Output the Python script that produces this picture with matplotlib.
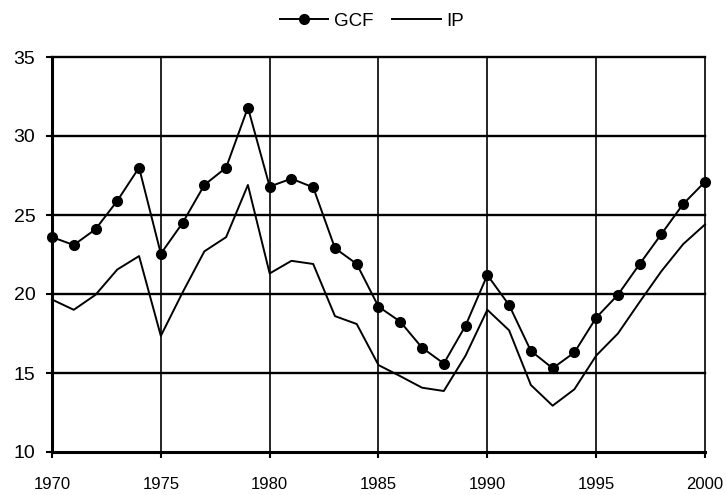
import matplotlib
matplotlib.use("Agg")
import matplotlib.pyplot as plt
from matplotlib import font_manager

years = list(range(1970, 2001))
gcf = [23.6, 23.1, 24.1, 25.9, 28.0, 22.55, 24.5, 26.9, 28.0, 31.8,
       26.8, 27.3, 26.75, 22.9, 21.9, 19.2, 18.25, 16.6, 15.6, 18.0,
       21.2, 19.3, 16.4, 15.3, 16.3, 18.5, 19.95, 21.9, 23.8, 25.7, 27.1]
ip = [19.65, 19.0, 19.95, 21.55, 22.4, 17.35, 20.1, 22.7, 23.6, 26.9,
      21.3, 22.1, 21.9, 18.6, 18.1, 15.5, 14.8, 14.07, 13.86, 16.1,
      19.0, 17.7, 14.24, 12.93, 13.97, 16.1, 17.5, 19.5, 21.45, 23.16, 24.4]
x_ticks = [1970, 1975, 1980, 1985, 1990, 1995, 2000]
y_ticks = [10, 15, 20, 25, 30, 35]

installed = {f.name for f in font_manager.fontManager.ttflist}
base_font = "Liberation Sans" if "Liberation Sans" in installed else "DejaVu Sans"
narrow_font = "Liberation Sans Narrow" if "Liberation Sans Narrow" in installed else base_font
plt.rcParams["font.family"] = [base_font, "DejaVu Sans"]

fig = plt.figure(figsize=(7.26, 4.95), dpi=100)
ax = fig.add_axes([52 / 726, 43 / 495, 653 / 726, 395 / 495])

ax.plot(years, gcf, color="black", lw=1.4, marker="o", ms=7, label="GCF",
        zorder=3, clip_on=False)
ax.plot(years, ip, color="black", lw=1.4, label="IP", zorder=3, clip_on=False)

ax.set_xlim(1970, 2000)
ax.set_ylim(10, 35)
ax.set_xticks(x_ticks)
ax.set_yticks(y_ticks)
ax.set_xticklabels([str(t) for t in x_ticks], fontfamily=narrow_font, fontsize=12)
ax.set_yticklabels([str(t) for t in y_ticks], fontsize=14)

for x in x_ticks[1:]:
    ax.axvline(x, color="black", lw=1.2, zorder=1, clip_on=False)
for y in y_ticks[1:]:
    ax.axhline(y, color="black", lw=1.7, zorder=1, clip_on=False)

ax.spines["top"].set_visible(False)
ax.spines["right"].set_visible(False)
ax.spines["left"].set_linewidth(2.2)
ax.spines["bottom"].set_linewidth(2.2)
ax.tick_params(axis="both", direction="out", length=4, width=1.5, color="black")
ax.tick_params(axis="x", pad=14)
ax.tick_params(axis="y", pad=8)

ax.legend(loc="lower center", bbox_to_anchor=(0.49, 1.05), ncol=2, frameon=False,
          fontsize=13.5, handlelength=2.6, columnspacing=1.0, handletextpad=0.3,
          borderaxespad=0.0)

fig.savefig("out.png", dpi=100)
